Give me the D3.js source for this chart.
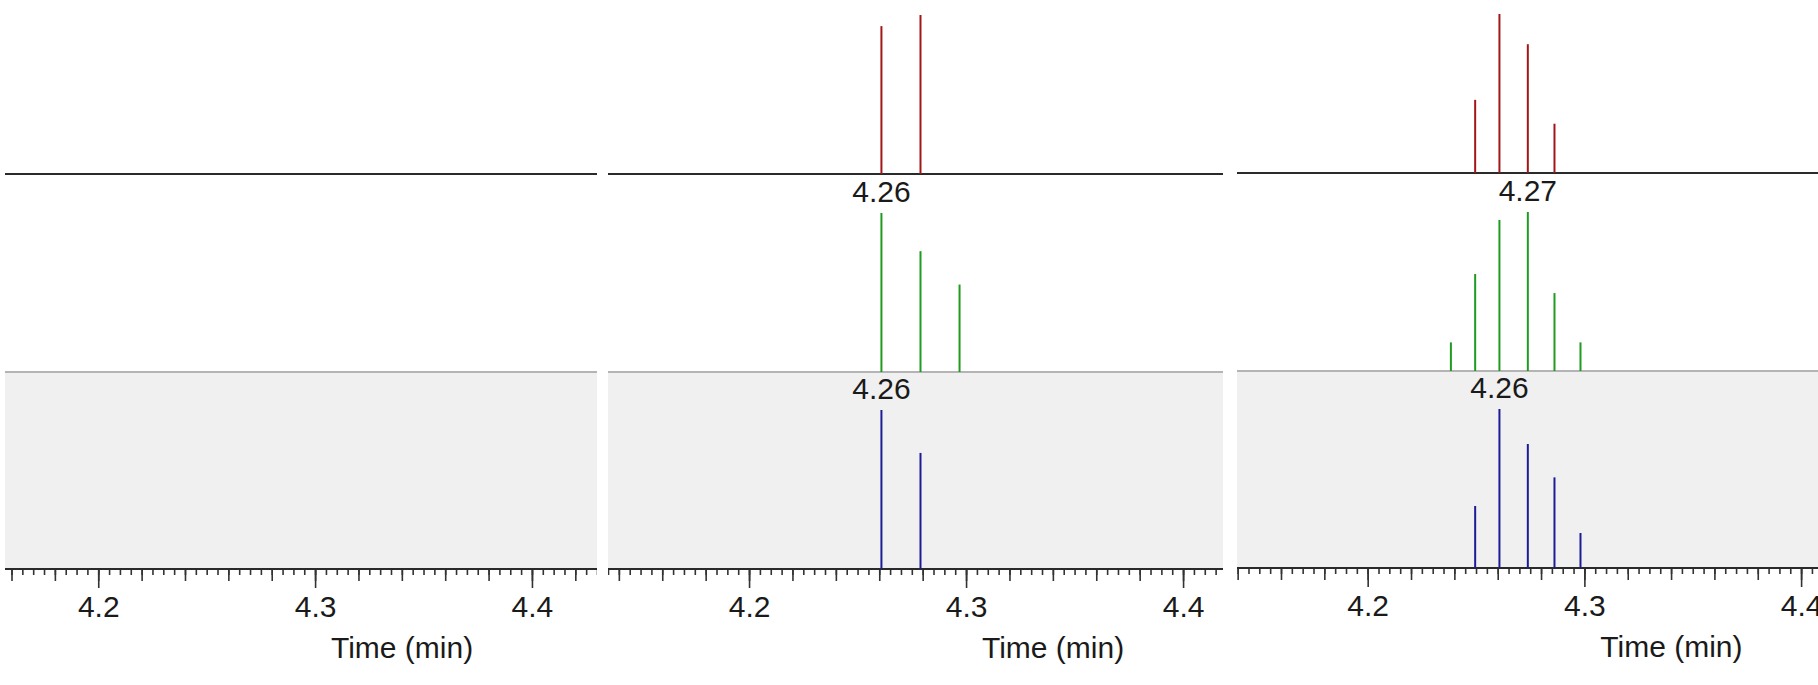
<!DOCTYPE html>
<html><head><meta charset="utf-8">
<script src="https://cdn.jsdelivr.net/npm/d3@7"></script>
<style>html,body{margin:0;padding:0;background:#fff;overflow:hidden}</style>
</head><body>
<svg id="chart" width="1818" height="685"></svg>
<script>
// ---------------- DATA ----------------
const xTickLabels = [4.2, 4.3, 4.4];
const axisTitle = "Time (min)";
const panelDomains = [[4.157, 4.430], [4.135, 4.4184], [4.1397, 4.4078]];

// panel A (left) : no peaks
const timesA = [];
const redA = [];
const greenA = [];
const blueA = [];

// panel B (middle)
const timesB = [4.261, 4.279, 4.297];
const redB   = [93, 100, null];
const greenB = [100, 76, 55];
const blueB  = [100, 73, null];

// panel C (right)
const timesC = [4.2384, 4.2496, 4.2608, 4.2739, 4.2862, 4.2982];
const redC   = [null, 46, 100, 81, 31, null];
const greenC = [18, 61, 95, 100, 49, 18];
const blueC  = [null, 39, 100, 78, 57, 22];

const trackColors = ["#a31616", "#1f9b1f", "#1c1c96"];

// ---------------- LAYOUT ----------------
const panelPx = [[5, 597], [608, 1223], [1237, 1818]];
const panelDy = [0, 0, -1];
const yTop = 174, yMid = 372, yAxis = 569, stemMax = 159;
const FONT = "'Liberation Sans', Arial, sans-serif";

const panels = [
  {times: timesA, tracks: [redA, greenA, blueA]},
  {times: timesB, tracks: [redB, greenB, blueB]},
  {times: timesC, tracks: [redC, greenC, blueC]}
];

const svg = d3.select("#chart");
const defs = svg.append("defs");

panels.forEach((p, pi) => {
  const [L, R] = panelPx[pi];
  const dy = panelDy[pi];
  const dom = panelDomains[pi];
  const x = d3.scaleLinear().domain(dom).range([L, R]);

  defs.append("clipPath").attr("id", "clip" + pi)
    .append("rect").attr("x", L).attr("y", 0).attr("width", R - L).attr("height", 685);

  const g = svg.append("g").attr("clip-path", `url(#clip${pi})`)
    .attr("transform", `translate(0,${dy})`);

  // grey band for lowest track
  g.append("rect").attr("x", L).attr("y", yMid).attr("width", R - L).attr("height", yAxis - yMid)
    .attr("fill", "#f0f0f0");

  // separating lines
  g.append("line").attr("x1", L).attr("x2", R).attr("y1", yTop).attr("y2", yTop)
    .attr("stroke", "#2a2a2a").attr("stroke-width", 2);
  g.append("line").attr("x1", L).attr("x2", R).attr("y1", yMid).attr("y2", yMid)
    .attr("stroke", "#b4b4b4").attr("stroke-width", 2);

  // axis ticks
  const minorVals = d3.range(Math.ceil(dom[0] * 200), Math.floor(dom[1] * 200) + 1).map(i => i / 200);
  const medVals = d3.range(Math.ceil(dom[0] * 50), Math.floor(dom[1] * 50) + 1).map(i => i / 50);
  const ax = g.append("g").attr("transform", `translate(0,${yAxis})`);
  const mk = (vals, size, fmt) => {
    const a = ax.append("g").call(d3.axisBottom(x).tickValues(vals).tickSize(size)
      .tickFormat(fmt || (() => "")));
    a.select(".domain").remove();
    a.selectAll(".tick line").attr("stroke", "#333").attr("stroke-width", 1.6);
    return a;
  };
  mk(minorVals, 6);
  mk(medVals, 12);
  const major = mk(xTickLabels, 19, d3.format(".1f"));
  major.selectAll(".tick text")
    .attr("y", 48).attr("dy", 0)
    .attr("fill", "#1a1a1a")
    .style("font-family", FONT).style("font-size", "30px");

  g.append("line").attr("x1", L).attr("x2", R).attr("y1", yAxis).attr("y2", yAxis)
    .attr("stroke", "#2a2a2a").attr("stroke-width", 2);

  // axis title
  g.append("text").attr("x", x(4.3) + 87).attr("y", 658)
    .attr("text-anchor", "middle").attr("fill", "#1a1a1a")
    .style("font-family", FONT).style("font-size", "30px")
    .text(axisTitle);

  // stems
  const baselines = [yTop, yMid, yAxis];
  p.tracks.forEach((vals, ti) => {
    const base = baselines[ti];
    const y = d3.scaleLinear().domain([0, 100]).range([base, base - stemMax]);
    const pts = p.times.map((t, i) => ({t, v: vals[i]})).filter(d => d.v != null);
    g.append("g").selectAll("line").data(pts).join("line")
      .attr("x1", d => x(d.t)).attr("x2", d => x(d.t))
      .attr("y1", base).attr("y2", d => y(d.v))
      .attr("stroke", trackColors[ti]).attr("stroke-width", 2);
    // apex label for lower tracks
    if (ti > 0 && pts.length) {
      const top = pts.reduce((a, b) => (b.v > a.v ? b : a));
      g.append("text").attr("x", x(top.t)).attr("y", y(top.v) - 11)
        .attr("text-anchor", "middle").attr("fill", "#1a1a1a")
        .style("font-family", FONT).style("font-size", "30px")
        .text(d3.format(".2f")(top.t));
    }
  });
});
</script>
</body></html>
